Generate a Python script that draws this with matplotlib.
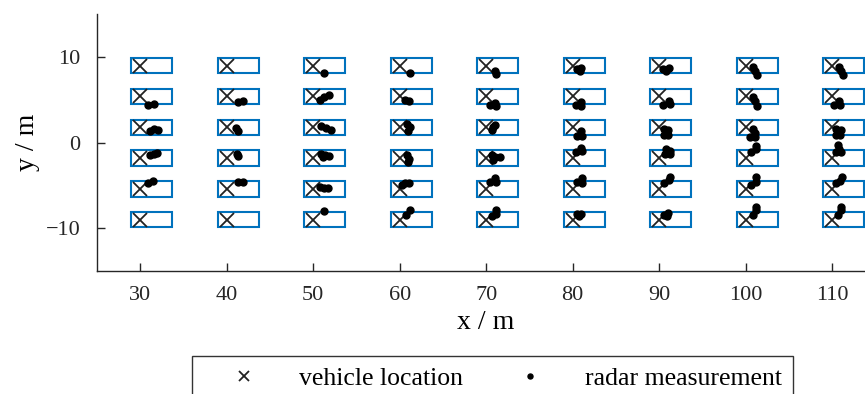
import numpy as np
import matplotlib
matplotlib.use("Agg")
import matplotlib.pyplot as plt
from matplotlib.patches import Rectangle

# Vehicle grid (reference point of each car)
VEH_X = [30, 40, 50, 60, 70, 80, 90, 100, 110]
VEH_Y = [9.0, 5.4, 1.8, -1.8, -5.4, -9.0]

RADAR_X = [
    # y = 9
    51.27, 61.15, 71.04, 71.15, 80.54, 80.92, 80.85, 90.50, 91.15, 90.77,
    100.85, 101.12, 101.35, 110.85, 111.04, 111.23,
    # y = 5.4
    30.90, 31.55, 41.35, 41.90, 50.77, 51.27, 51.80, 60.65, 61.04,
    70.46, 71.04, 71.15, 80.38, 80.92, 81.00, 90.50, 91.15, 91.27,
    100.85, 101.12, 101.35, 110.27, 110.85, 110.96,
    # y = 1.8
    31.15, 31.65, 32.10, 41.10, 41.35, 50.96, 51.54, 52.04, 60.85, 61.15, 60.92,
    70.85, 70.65, 71.04, 80.92, 80.46, 81.04, 90.58, 91.04, 90.58, 91.04,
    100.85, 101.04, 100.46, 101.04, 110.46, 111.04, 110.46, 110.96,
    # y = -1.8
    31.15, 31.65, 32.00, 41.15, 41.27, 50.96, 51.35, 51.80, 51.15,
    60.85, 61.04, 60.92, 70.65, 71.04, 71.62, 70.85, 80.38, 80.92, 81.04,
    90.77, 91.27, 91.27, 90.65, 100.65, 101.23, 101.23,
    110.46, 110.85, 111.04, 110.65,
    # y = -5.4
    30.88, 31.46, 41.35, 41.92, 50.77, 51.23, 51.73, 60.27, 60.65, 61.04,
    70.46, 71.04, 71.12, 80.46, 81.04, 81.04, 90.58, 91.15, 91.27,
    100.65, 101.23, 101.23, 110.46, 110.96, 111.12,
    # y = -9
    51.27, 60.77, 61.15, 70.65, 71.15, 71.15, 80.46, 80.92, 80.77,
    90.58, 91.04, 90.88, 100.85, 101.23, 101.23, 110.65, 111.04, 111.04,
]
RADAR_Y = [
    8.12, 8.12, 8.35, 7.96, 8.62, 8.73, 8.42, 8.62, 8.73, 8.42,
    8.81, 8.35, 7.85, 8.81, 8.35, 7.85,
    4.44, 4.52, 4.80, 4.82, 4.98, 5.28, 5.55, 4.98, 4.82,
    4.44, 4.63, 4.32, 4.44, 4.71, 4.32, 4.44, 4.90, 4.52,
    5.28, 4.82, 4.32, 4.44, 4.90, 4.44,
    1.38, 1.57, 1.42, 1.70, 1.40, 1.95, 1.76, 1.50, 2.18, 1.80, 1.30,
    1.88, 1.50, 2.07, 1.30, 0.80, 0.80, 1.57, 1.50, 0.92, 0.92,
    1.57, 1.11, 0.65, 0.65, 1.57, 1.50, 0.92, 0.92,
    -1.50, -1.30, -1.22, -1.30, -1.60, -1.38, -1.50, -1.60, -1.70,
    -1.50, -1.88, -2.26, -1.50, -1.68, -1.68, -2.07, -1.11, -0.61, -0.92,
    -0.72, -0.92, -1.30, -1.30, -1.11, -0.72, -0.34,
    -1.11, -0.72, -1.11, -0.30,
    -4.67, -4.44, -4.55, -4.63, -5.13, -5.25, -5.32, -4.94, -4.75, -4.67,
    -4.55, -4.17, -4.55, -4.55, -4.17, -4.67, -4.75, -4.36, -3.98,
    -4.94, -4.55, -3.98, -4.75, -4.44, -3.98,
    -7.96, -8.42, -7.92, -8.54, -7.92, -8.31, -8.31, -8.31, -8.62,
    -8.42, -8.23, -8.54, -8.42, -7.92, -7.54, -8.42, -7.92, -7.54,
]

# car outline relative to the reference point
CAR_LEN = 4.7
CAR_WID = 1.8
CAR_REAR = 1.0

BOX_COLOR = "#0072BD"

plt.rcParams["font.family"] = ["Liberation Serif", "DejaVu Serif"]

fig = plt.figure(figsize=(8.65, 3.94), dpi=100)
ax = fig.add_axes([0.112, 0.312, 0.90, 0.652])

vx, vy = np.meshgrid(VEH_X, VEH_Y)
for x0, y0 in zip(vx.ravel(), vy.ravel()):
    ax.add_patch(Rectangle((x0 - CAR_REAR, y0 - CAR_WID / 2), CAR_LEN, CAR_WID,
                           fill=False, edgecolor=BOX_COLOR, lw=1.5, zorder=2))

h_veh, = ax.plot(vx.ravel(), vy.ravel(), "x", color="#222222", ms=10.5,
                 mew=1.3, ls="none", zorder=3, label="vehicle location")
h_rad, = ax.plot(RADAR_X, RADAR_Y, "o", color="black", ms=5, ls="none",
                 zorder=4, label="radar measurement")

ax.set_xlim(25, 115)
ax.set_ylim(-15, 15)
ax.set_xticks([30, 40, 50, 60, 70, 80, 90, 100, 110])
ax.set_yticks([-10, 0, 10])
ax.set_yticklabels(["\u221210", "0", "10"])
ax.spines["top"].set_visible(False)
ax.spines["right"].set_visible(False)
for s in ("left", "bottom"):
    ax.spines[s].set_linewidth(1.0)
    ax.spines[s].set_color("#262626")
ax.tick_params(direction="in", length=6, width=1.0, labelsize=16,
               colors="#262626")
ax.tick_params(axis="x", pad=11)
ax.tick_params(axis="y", pad=12)
ax.set_xlabel("x / m", fontsize=20, labelpad=3)
ax.set_ylabel("y / m", fontsize=20, labelpad=4)

leg = fig.legend(handles=[h_veh, h_rad], loc="upper center",
                 bbox_to_anchor=(0.569, 0.097), borderaxespad=0.0, ncol=2,
                 fontsize=18.5, frameon=True, fancybox=False,
                 edgecolor="black", handlelength=3.2, columnspacing=1.0,
                 handletextpad=0.55, borderpad=0.42, markerscale=0.72)
leg.get_frame().set_linewidth(1.0)

fig.savefig("out.png", dpi=100)
